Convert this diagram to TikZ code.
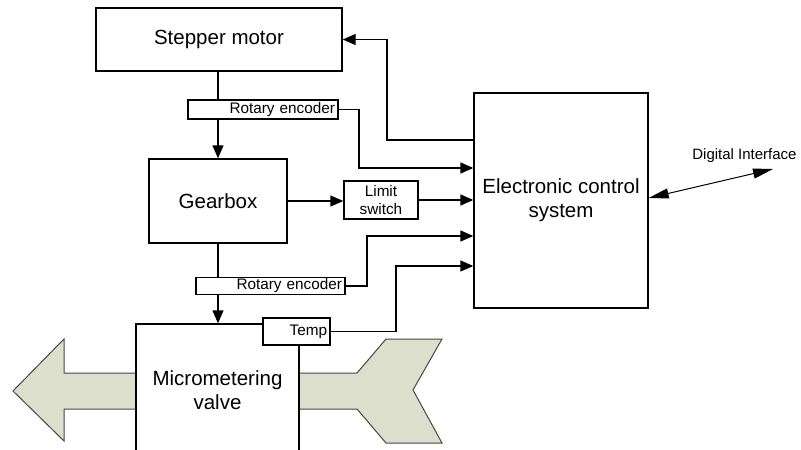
\documentclass[tikz,border=0pt]{standalone}
\usepackage{fontspec}
\setmainfont{Liberation Sans}
\usetikzlibrary{arrows.meta}
\definecolor{pipefill}{RGB}{220,223,203}
\definecolor{pipeline}{RGB}{70,72,65}
\tikzset{
  bigbox/.style={draw, line width=1.4pt, fill=white, inner sep=0pt, align=center,
    font=\fontsize{20.5}{24}\selectfont},
  smallbox/.style={draw, line width=1.4pt, fill=white, inner sep=0pt,
    font=\fontsize{15.3}{18}\selectfont},
  conn/.style={line width=1.4pt},
  arr/.style={line width=1.4pt, -{Triangle[length=13pt,width=11pt]}},
  darr/.style={line width=1pt, {Triangle[length=20pt,width=10pt]}-{Triangle[length=20pt,width=10pt]}},
  pipe/.style={fill=pipefill, draw=none},
  pipeedge/.style={draw=pipeline, line width=1pt, line join=miter},
  lbl/.style={font=\fontsize{15}{18}\selectfont, inner sep=0pt}
}
\begin{document}
\begin{tikzpicture}[x=1pt,y=-1pt]
\clip (0,0) rectangle (801,450);
\fill[white] (0,0) rectangle (801,450);

% pipe arrows (behind the valve)
\fill[pipe] (137,373) -- (64,373) -- (64,339) -- (13,391) -- (64,441) -- (64,409) -- (137,409) -- cycle;
\draw[pipeedge] (136,373) -- (64,373) -- (64,339) -- (13,391) -- (64,441) -- (64,409) -- (136,409);
\fill[pipe] (298,373) -- (357,373) -- (386,339) -- (442,339) -- (413,390) -- (442,443) -- (386,443) -- (357,409) -- (298,409) -- cycle;
\draw[pipeedge] (299,373) -- (357,373) -- (386,339) -- (442,339) -- (413,390) -- (442,443) -- (386,443) -- (357,409) -- (299,409);

% blocks
\node[bigbox, minimum width=246pt, minimum height=63pt] (stepper) at (219,39.5) {Stepper motor};
\node[bigbox, minimum width=138pt, minimum height=84pt] (gear) at (218,201) {Gearbox};
\node[bigbox, minimum width=174pt, minimum height=215pt] (ecs) at (561,200.5) {Electronic control\\system};
\node[bigbox, minimum width=163pt, minimum height=132pt] (valve) at (217.5,390) {Micrometering\\valve};

\node[smallbox, minimum width=150pt, minimum height=19pt, text width=144pt, align=right] (enc1) at (263,109.5) {Rotary encoder};
\node[smallbox, minimum width=149pt, minimum height=17pt, text width=143pt, align=right] (enc2) at (270.5,286) {Rotary encoder};
\node[smallbox, minimum width=74pt, minimum height=38pt, align=center] (lim) at (381,200) {Limit\\switch};
\node[smallbox, minimum width=67pt, minimum height=27pt, text width=61pt, align=right] (temp) at (296.5,331.5) {Temp};

% mechanical chain
\draw[conn] (gear.north |- stepper.south) -- (gear.north |- enc1.north);
\draw[arr] (gear.north |- enc1.south) -- (gear.north);
\draw[conn] (gear.south) -- (gear.south |- enc2.north);
\draw[arr] (gear.south |- enc2.south) -- (gear.south |- valve.north);
\draw[arr] (gear.east) -- (gear.east -| lim.west);

% signals to / from control system
\draw[arr] (ecs.west |- 0,140) -- (387,140) |- (stepper.east);
\draw[arr] (enc1.east) -| (359,168) -- (ecs.west |- 0,168);
\draw[arr] (lim.east) -- (ecs.west |- lim.east);
\draw[arr] (enc2.east) -| (367,236) -- (ecs.west |- 0,236);
\draw[arr] (temp.east) -| (396,266) -- (ecs.west |- 0,266);

% digital interface
\coordinate (di) at (773,169);
\draw[darr] (ecs.east |- 0,198) -- (di);
\node[lbl] (dilbl) at (744.5,156) {Digital Interface};
\end{tikzpicture}
\end{document}
